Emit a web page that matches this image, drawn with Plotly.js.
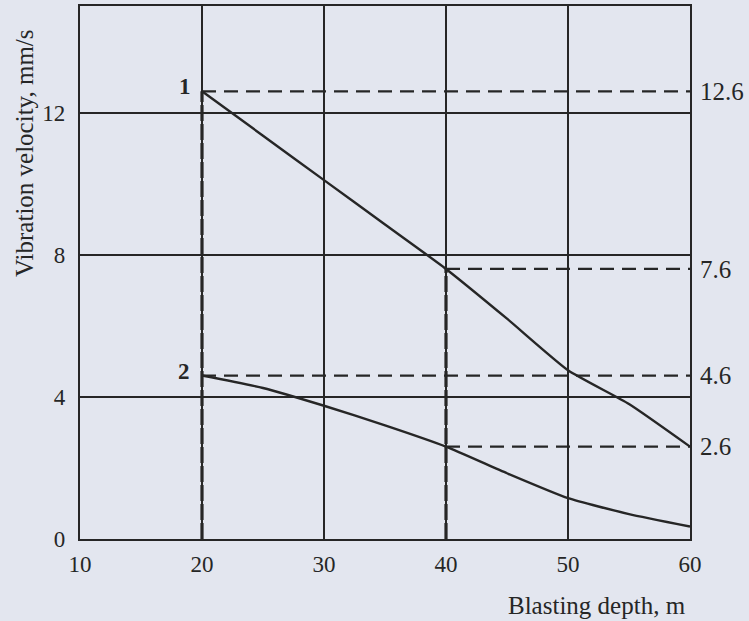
<!DOCTYPE html>
<html>
<head>
<meta charset="utf-8">
<script src="https://cdn.plot.ly/plotly-3.0.1.min.js"></script>
<style>
  html, body { margin: 0; padding: 0; background: #e3e6ef; }
  #chart { width: 749px; height: 621px; }
</style>
</head>
<body>
<div id="chart"></div>
<script>
// ---- data ----
const depth = [20, 25, 30, 35, 40, 45, 50, 55, 60];
const curve1 = [12.6, 11.35, 10.1, 8.85, 7.6, 6.2, 4.75, 3.8, 2.6];
const curve2 = [4.6, 4.25, 3.75, 3.2, 2.6, 1.85, 1.15, 0.7, 0.35];
const curveNames = ["1", "2"];
const levelValues = [12.6, 7.6, 4.6, 2.6];
const levelStart = [20, 40, 20, 40];
const levelLabels = ["12.6", "7.6", "4.6", "2.6"];
const xTicks = [10, 20, 30, 40, 50, 60];
const yTicks = [0, 4, 8, 12];
const xTitle = "Blasting depth, m";
const yTitle = "Vibration velocity, mm/s";

const ink = "#262626";
const serif = "Liberation Serif, Times New Roman, serif";

const traces = [];

// dashed horizontal reference levels
levelValues.forEach((v, i) => {
  traces.push({
    x: [levelStart[i], 60], y: [v, v], mode: "lines", type: "scatter",
    line: { color: ink, width: 2.2, dash: "14px,8px" }, hoverinfo: "skip", showlegend: false
  });
});
// dashed vertical drops at the start points
[[20, 12.6], [40, 7.6]].forEach(p => {
  traces.push({
    x: [p[0], p[0]], y: [0, p[1]], mode: "lines", type: "scatter",
    line: { color: ink, width: 3.2, dash: "16px,3px" }, hoverinfo: "skip", showlegend: false
  });
});
// curves
[curve1, curve2].forEach((c, i) => {
  traces.push({
    x: depth, y: c, mode: "lines", type: "scatter", name: curveNames[i],
    line: { color: ink, width: 2.4, shape: "spline", smoothing: 0.5 }, showlegend: false
  });
});
// right-side axis carrier
traces.push({ x: [60], y: [0], yaxis: "y2", mode: "markers", marker: { opacity: 0 }, hoverinfo: "skip", showlegend: false });

const layout = {
  width: 749, height: 621,
  margin: { l: 80, r: 59, t: 6, b: 82 },
  paper_bgcolor: "#e3e6ef",
  plot_bgcolor: "#e3e6ef",
  font: { family: serif, color: ink },
  showlegend: false,
  xaxis: {
    range: [10, 60], tickvals: xTicks, ticktext: xTicks.map(String),
    showgrid: true, gridcolor: ink, gridwidth: 2,
    zeroline: false, showline: true, linecolor: ink, linewidth: 2.2, mirror: true,
    ticks: "", ticklabelstandoff: 3,
    tickfont: { family: serif, size: 23, color: ink }
  },
  yaxis: {
    range: [0, 15], tickvals: yTicks, ticktext: yTicks.map(String),
    showgrid: true, gridcolor: ink, gridwidth: 2,
    zeroline: false, showline: true, linecolor: ink, linewidth: 2.2, mirror: true,
    ticks: "", ticklabelstandoff: 8,
    tickfont: { family: serif, size: 23, color: ink }
  },
  yaxis2: {
    range: [0, 15], overlaying: "y", side: "right", anchor: "x",
    tickvals: levelValues, ticktext: levelLabels,
    showgrid: false, zeroline: false, showline: false, ticks: "",
    ticklabelstandoff: 9,
    tickfont: { family: serif, size: 25, color: ink }
  },
  annotations: [
    { xref: "x", yref: "y", x: 20, y: 12.6, text: "<b>1</b>", showarrow: false,
      xanchor: "right", yanchor: "bottom", xshift: -9, yshift: -10, font: { family: serif, size: 23, color: ink } },
    { xref: "x", yref: "y", x: 20, y: 4.6, text: "<b>2</b>", showarrow: false,
      xanchor: "right", yanchor: "middle", xshift: -10, yshift: 4, font: { family: serif, size: 23, color: ink } },
    { xref: "paper", yref: "paper", x: -0.092, y: 0.724, text: yTitle, textangle: -90, showarrow: false,
      xanchor: "center", yanchor: "middle", font: { family: serif, size: 25, color: ink } },
    { xref: "paper", yref: "paper", x: 0.848, y: -0.125, text: xTitle, showarrow: false,
      xanchor: "center", yanchor: "middle", font: { family: serif, size: 25, color: ink } }
  ]
};

Plotly.newPlot("chart", traces, layout, { staticPlot: true, displayModeBar: false });
</script>
</body>
</html>
